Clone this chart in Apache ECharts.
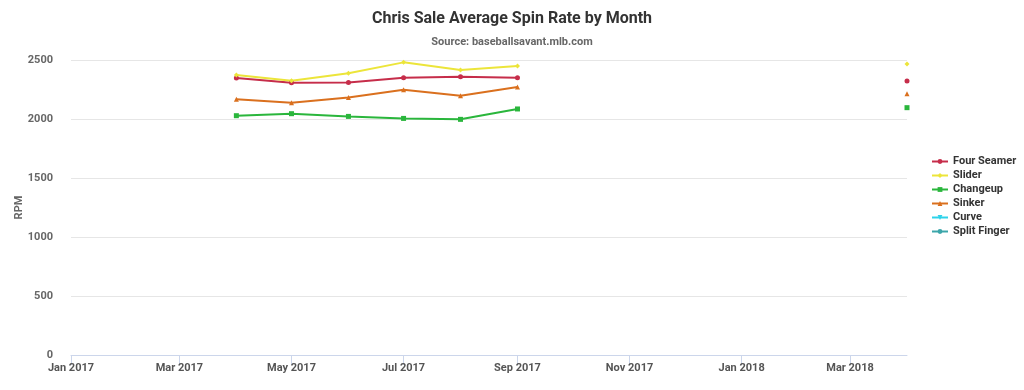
<!DOCTYPE html>
<html>
<head>
<meta charset="utf-8">
<script src="https://cdn.jsdelivr.net/npm/echarts@6/dist/echarts.min.js"></script>
<style>
html,body{margin:0;padding:0;background:#fff;}
#chart{width:1024px;height:390px;}
</style>
</head>
<body>
<div id="chart"></div>
<script>
var months = ['2017-04-01','2017-05-01','2017-06-01','2017-07-01','2017-08-01','2017-09-01',
  '2017-10-01','2017-11-01','2017-12-01','2018-01-01','2018-02-01','2018-03-01','2018-04-01'];
var fourSeamer = [2348, 2308, 2310, 2350, 2358, 2350, null, null, null, null, null, null, 2322];
var slider     = [2373, 2325, 2387, 2480, 2415, 2449, null, null, null, null, null, null, 2466];
var changeup   = [2028, 2045, 2022, 2005, 1997, 2085, null, null, null, null, null, null, 2096];
var sinker     = [2167, 2138, 2183, 2248, 2197, 2271, null, null, null, null, null, null, 2214];
var curve      = [];
var splitFinger= [];
var seriesNames = ['Four Seamer','Slider','Changeup','Sinker','Curve','Split Finger'];
var seriesValues = [fourSeamer, slider, changeup, sinker, curve, splitFinger];
var colors = ['#c62d4a','#ece53a','#2ab63c','#da701e','#2ed3ea','#3ba6aa'];
var symbols = ['circle','diamond','rect','triangle','path://M0,0 L10,0 L5,10 Z','circle'];

var chart = echarts.init(document.getElementById('chart'), null, {renderer:'canvas'});
var font = 'Roboto';
var series = seriesNames.map(function(n,i){
  return {
    name:n, type:'line', connectNulls:false,
    data: seriesValues[i].map(function(v,j){ return [months[j], v]; }),
    symbol: symbols[i], symbolSize: 5, showAllSymbol:true,
    lineStyle:{width:2, color:colors[i]},
    itemStyle:{color:colors[i]},
    emphasis:{disabled:true}
  };
});
chart.setOption({
  backgroundColor:'#ffffff',
  animation:false,
  color:colors,
  title:[{
    text:'Chris Sale Average Spin Rate by Month',
    left:'center', top:6,
    textStyle:{fontFamily:font, fontWeight:'bold', fontSize:16, color:'#333333'}
  },{
    text:'Source: baseballsavant.mlb.com',
    left:'center', top:32,
    textStyle:{fontFamily:font, fontWeight:'bold', fontSize:11, color:'#666666'}
  }],
  legend:{
    orient:'vertical', left:926, top:151,
    itemWidth:16, itemHeight:6, itemGap:3,
    textStyle:{fontFamily:font, fontWeight:'bold', fontSize:11, color:'#333333'},
    data:seriesNames
  },
  grid:{left:71, right:117, top:60, bottom:35, containLabel:false},
  xAxis:{
    type:'time',
    min:'2017-01-01', max:'2018-04-01',
    minInterval: 59*86400000, maxInterval: 62*86400000,
    axisLine:{lineStyle:{color:'#ccd6eb'}},
    axisTick:{show:true, length:10, lineStyle:{color:'#ccd6eb'}},
    axisLabel:{
      fontFamily:font, fontWeight:'bold', fontSize:11, color:'#555555', margin:8,
      showMaxLabel:false, hideOverlap:false,
      formatter: function(v){
        var d = new Date(v);
        var m = ['Jan','Feb','Mar','Apr','May','Jun','Jul','Aug','Sep','Oct','Nov','Dec'];
        return m[d.getMonth()] + ' ' + d.getFullYear();
      }
    },
    splitLine:{show:false}
  },
  yAxis:{
    type:'value', min:0, max:2500, interval:500,
    name:'RPM', nameLocation:'middle', nameGap:46, nameRotate:90, nameMoveOverlap:false,
    nameTextStyle:{fontFamily:font, fontWeight:'bold', fontSize:11, color:'#666666'},
    axisLine:{show:false}, axisTick:{show:false},
    axisLabel:{fontFamily:font, fontWeight:'bold', fontSize:11, color:'#666666', margin:18,
      formatter:function(v){ return String(v); }},
    splitLine:{lineStyle:{color:'#e6e6e6'}}
  },
  series:series
});
</script>
</body>
</html>
